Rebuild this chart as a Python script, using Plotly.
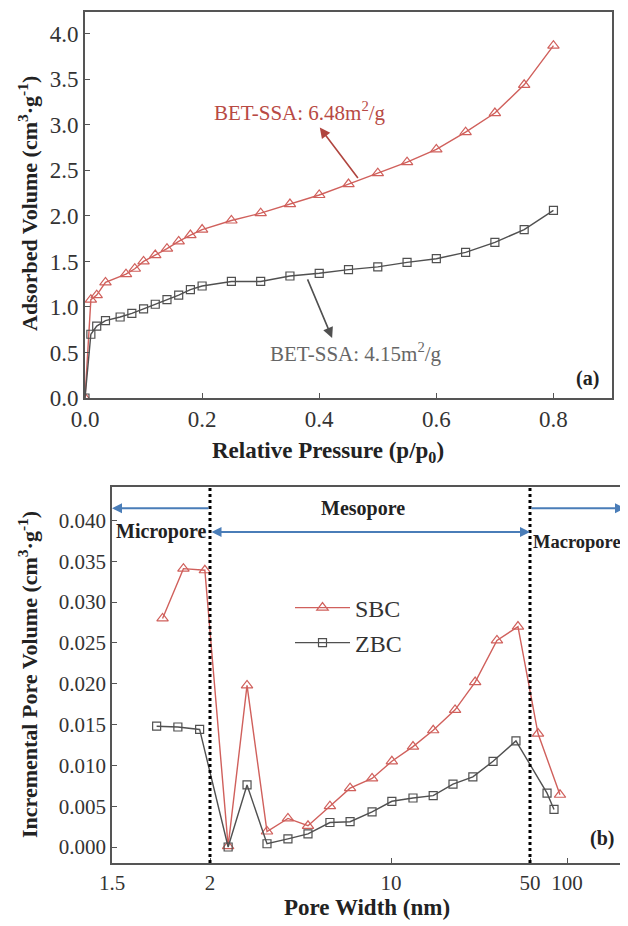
import numpy as np
import plotly.graph_objects as go

# ---------------- data: (a) N2 adsorption isotherms ----------------
SBC_P = [0.0, 0.01, 0.02, 0.035, 0.07, 0.085, 0.1, 0.12, 0.14, 0.16, 0.18, 0.2,
         0.25, 0.3, 0.35, 0.4, 0.45, 0.5, 0.55, 0.6, 0.65, 0.7, 0.75, 0.8]
SBC_Q = [0.0, 1.08, 1.13, 1.27, 1.36, 1.42, 1.50, 1.57, 1.64, 1.72, 1.79, 1.85,
         1.95, 2.03, 2.13, 2.23, 2.35, 2.47, 2.59, 2.73, 2.92, 3.13, 3.44, 3.87]
ZBC_P = [0.0, 0.01, 0.02, 0.035, 0.06, 0.08, 0.1, 0.12, 0.14, 0.16, 0.18, 0.2,
         0.25, 0.3, 0.35, 0.4, 0.45, 0.5, 0.55, 0.6, 0.65, 0.7, 0.75, 0.8]
ZBC_Q = [0.0, 0.70, 0.79, 0.85, 0.89, 0.93, 0.98, 1.03, 1.08, 1.13, 1.19, 1.23,
         1.28, 1.28, 1.34, 1.37, 1.41, 1.44, 1.49, 1.53, 1.60, 1.71, 1.85, 2.06]

# ---------------- data: (b) pore size distribution ----------------
SBC_W = [1.74, 1.85, 1.97, 2.35, 2.78, 3.32, 4.00, 4.78, 5.81, 6.95, 8.45, 10.1,
         12.9, 16.3, 21.0, 26.5, 34.1, 43.5, 58.1, 87.7]
SBC_V = [0.0280, 0.0341, 0.0339, 0.0001, 0.0198, 0.0019, 0.0035, 0.0026, 0.0050,
         0.0072, 0.0084, 0.0105, 0.0123, 0.0143, 0.0168, 0.0202, 0.0253, 0.0270,
         0.0139, 0.0064]
ZBC_W = [1.71, 1.82, 1.94, 2.35, 2.78, 3.32, 4.00, 4.78, 5.81, 6.95, 8.45, 10.1,
         12.9, 16.3, 20.5, 25.8, 32.6, 42.5, 68.8, 78.4]
ZBC_V = [0.0148, 0.0147, 0.0144, 0.0000, 0.0076, 0.0004, 0.0010, 0.0016, 0.0030,
         0.0031, 0.0043, 0.0056, 0.0060, 0.0063, 0.0077, 0.0086, 0.0105, 0.0130,
         0.0066, 0.0046]

PORE_TICKS = [1.5, 2, 10, 50, 100]
PORE_TICK_TEXT = ["1.5", "2", "10", "50", "100"]
MICRO_MESO = 2
MESO_MACRO = 50

SBC_LABEL = "BET-SSA: 6.48m<sup>2</sup>/g"
ZBC_LABEL = "BET-SSA: 4.15m<sup>2</sup>/g"

# segmented logarithmic pore-width axis (as drawn in the original)
KNOT_NM = [1.5, 2, 10, 50, 100]
KNOT_POS = [0, 98, 279, 418, 455]
AX_MAX = 513


def to_axis(nm):
    return np.interp(np.log10(np.asarray(nm, dtype=float)), np.log10(KNOT_NM), KNOT_POS)


PAGE_OFF = 8          # default body margin of the page
W, H = 628 - PAGE_OFF, 926 - PAGE_OFF
SERIF = "Liberation Serif"
RED = "#d0605c"
RED_TXT = "#b84a44"
GRAY = "#505050"
BLUE = "#4a7db8"
AXC = "#555555"


def px_x(p):
    return (p - PAGE_OFF) / W


def px_y(p):
    return 1 - (p - PAGE_OFF) / H


fig = go.Figure()

fig.add_trace(go.Scatter(x=SBC_P, y=SBC_Q, mode="lines+markers", showlegend=False,
                         line=dict(color=RED, width=1.4),
                         marker=dict(symbol="triangle-up-open", size=10, color=RED,
                                     line=dict(width=1.2)),
                         xaxis="x", yaxis="y"))
fig.add_trace(go.Scatter(x=ZBC_P, y=ZBC_Q, mode="lines+markers", showlegend=False,
                         line=dict(color=GRAY, width=1.4),
                         marker=dict(symbol="square-open", size=8, color=GRAY,
                                     line=dict(width=1.2)),
                         xaxis="x", yaxis="y"))

fig.add_trace(go.Scatter(x=to_axis(SBC_W), y=SBC_V, mode="lines+markers", name="SBC",
                         line=dict(color=RED, width=1.4),
                         marker=dict(symbol="triangle-up-open", size=10, color=RED,
                                     line=dict(width=1.2)),
                         xaxis="x2", yaxis="y2", legend="legend"))
fig.add_trace(go.Scatter(x=to_axis(ZBC_W), y=ZBC_V, mode="lines+markers", name="ZBC",
                         line=dict(color=GRAY, width=1.4),
                         marker=dict(symbol="square-open", size=8, color=GRAY,
                                     line=dict(width=1.2)),
                         xaxis="x2", yaxis="y2", legend="legend2"))

common = dict(showline=True, mirror=True, linecolor=AXC, linewidth=1.6,
              ticks="inside", ticklen=5, tickwidth=1.3, tickcolor=AXC,
              showgrid=False, zeroline=False, automargin=False)

fig.update_layout(
    template="none",
    width=W, height=H, margin=dict(l=0, r=0, t=0, b=0, autoexpand=False),
    plot_bgcolor="white", paper_bgcolor="white",
    xaxis=dict(domain=[px_x(85), px_x(612)], range=[0, 0.9], anchor="y",
               tickvals=[0, 0.2, 0.4, 0.6, 0.8], tickformat=".1f",
               tickfont=dict(family=SERIF, size=23, color="#333"), **common),
    yaxis=dict(domain=[px_y(398), px_y(12)], range=[0, 4.24], anchor="x",
               tickvals=[0, 0.5, 1, 1.5, 2, 2.5, 3, 3.5, 4], tickformat=".1f",
               tickfont=dict(family=SERIF, size=23, color="#333"), **common),
    xaxis2=dict(domain=[px_x(112), px_x(625)], range=[0, AX_MAX], anchor="y2",
                tickvals=list(to_axis(PORE_TICKS)), ticktext=PORE_TICK_TEXT,
                tickfont=dict(family=SERIF, size=21, color="#333"), **common),
    yaxis2=dict(domain=[px_y(863), px_y(487)], range=[-0.00196, 0.0441], anchor="x2",
                dtick=0.005, tick0=0, tickformat=".3f",
                tickfont=dict(family=SERIF, size=21, color="#333"), **common),
    legend=dict(x=px_x(290), y=px_y(608), xanchor="left", yanchor="middle",
                bgcolor="rgba(0,0,0,0)", itemwidth=55,
                font=dict(family=SERIF, size=24, color="#333")),
    legend2=dict(x=px_x(290), y=px_y(643), xanchor="left", yanchor="middle",
                 bgcolor="rgba(0,0,0,0)", itemwidth=55,
                 font=dict(family=SERIF, size=24, color="#333")),
)

# dotted boundaries
for b in (MICRO_MESO, MESO_MACRO):
    xb = float(to_axis(b))
    fig.add_shape(type="line", xref="x2", yref="y2 domain", x0=xb, x1=xb, y0=0, y1=1,
                  line=dict(color="black", width=3, dash="dot"))

ann = []


def text_px(x, y, text, size, color="#222", angle=0, xanchor="center"):
    ann.append(dict(xref="paper", yref="paper", x=px_x(x), y=px_y(y), showarrow=False,
                    text=text, textangle=angle, xanchor=xanchor, yanchor="middle",
                    font=dict(family=SERIF, size=size, color=color)))


# axis titles
text_px(328, 452, "<b>Relative Pressure (p/p<sub>0</sub>)</b>", 23)
text_px(28, 204, "<b>Adsorbed Volume (cm<sup>3</sup>·g<sup>-1</sup>)</b>", 22, angle=-90)
text_px(367, 907, "<b>Pore Width (nm)</b>", 23)
text_px(28, 675, "<b>Incremental Pore Volume (cm<sup>3</sup>·g<sup>-1</sup>)</b>", 22, angle=-90)
# panel labels
text_px(587, 378, "<b>(a)</b>", 20)
text_px(602, 838, "<b>(b)</b>", 20)

# BET annotations (a)
ann.append(dict(xref="x", yref="y", x=0.401, y=2.97, ax=0.468, ay=2.40,
                axref="x", ayref="y", text="", showarrow=True, arrowhead=2,
                arrowsize=1.3, arrowwidth=1.6, arrowcolor="#b0453f"))
ann.append(dict(xref="x", yref="y", x=0.367, y=3.15, showarrow=False, text=SBC_LABEL,
                xanchor="center", yanchor="middle",
                font=dict(family=SERIF, size=21, color=RED_TXT)))
ann.append(dict(xref="x", yref="y", x=0.422, y=0.66, ax=0.379, ay=1.32,
                axref="x", ayref="y", text="", showarrow=True, arrowhead=2,
                arrowsize=1.3, arrowwidth=1.6, arrowcolor="#505050"))
ann.append(dict(xref="x", yref="y", x=0.463, y=0.50, showarrow=False, text=ZBC_LABEL,
                xanchor="center", yanchor="middle",
                font=dict(family=SERIF, size=21, color="#666")))

# pore-region arrows (b)
x_lo, x_b1, x_b2 = 0.0, float(to_axis(MICRO_MESO)), float(to_axis(MESO_MACRO))
y_hi, y_lo = 0.0415, 0.0386
ann.append(dict(xref="x2", yref="y2", x=x_lo, y=y_hi, ax=x_b1, ay=y_hi, axref="x2",
                ayref="y2", text="", showarrow=True, arrowhead=2, arrowsize=1,
                arrowwidth=2, arrowcolor=BLUE))
ann.append(dict(xref="x2", yref="y2", x=x_b2, y=y_lo, ax=x_b1, ay=y_lo, axref="x2",
                ayref="y2", text="", showarrow=True, arrowhead=2, startarrowhead=2,
                arrowside="end+start", arrowsize=1, arrowwidth=2, arrowcolor=BLUE))
ann.append(dict(xref="x2", yref="y2", x=AX_MAX, y=y_hi, ax=x_b2, ay=y_hi, axref="x2",
                ayref="y2", text="", showarrow=True, arrowhead=2, arrowsize=1,
                arrowwidth=2, arrowcolor=BLUE))
ann.append(dict(xref="x2", yref="y2", x=2, y=0.0386, xanchor="left", yanchor="middle",
                showarrow=False, text="<b>Micropore</b>",
                font=dict(family=SERIF, size=20, color="#222")))
ann.append(dict(xref="x2", yref="y2", x=251, y=0.0415, xanchor="center", yanchor="middle",
                showarrow=False, text="<b>Mesopore</b>",
                font=dict(family=SERIF, size=20, color="#222")))
ann.append(dict(xref="x2", yref="y2", x=x_b2 + 1, y=0.03733, xanchor="left",
                yanchor="middle", showarrow=False, text="<b>Macropore</b>",
                font=dict(family=SERIF, size=18.5, color="#222")))

fig.update_layout(annotations=ann)
fig.write_html("out.html")
